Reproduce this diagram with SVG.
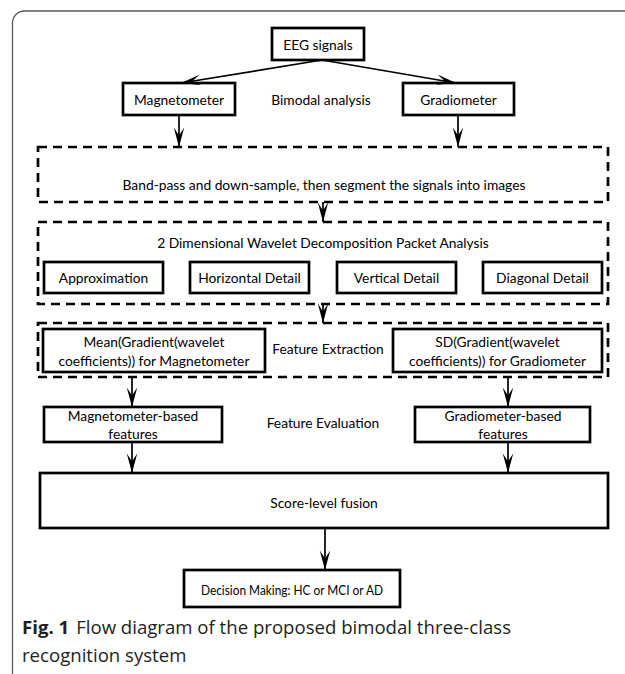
<svg xmlns="http://www.w3.org/2000/svg" width="625" height="674" viewBox="0 0 625 674">
<style>
.bg{fill:#fff}
.frame{fill:none;stroke:#5a5a5a;stroke-width:1.3}
.box{fill:#fff;stroke:#000;stroke-width:2.7}
.dash{fill:none;stroke:#000;stroke-width:2.7;stroke-dasharray:9 6}
.t{font-family:Lato,"Open Sans","Liberation Sans",sans-serif;font-size:13.8px;fill:#000;text-anchor:middle;dominant-baseline:central}
.conn line{stroke:#000;stroke-width:1.7;marker-end:url(#ah)}
.cap{font-family:"Open Sans","Noto Sans","Liberation Sans",sans-serif;font-size:18.6px;fill:#231f20}
</style>
<defs>
<marker id="ah" markerUnits="userSpaceOnUse" markerWidth="20" markerHeight="12" refX="19.5" refY="6" orient="auto" viewBox="0 0 20 12">
<path d="M0,0.8 L19.5,6 L0,11.2 L8,6 Z" fill="#000"/>
</marker>
</defs>
<rect class="bg" x="0" y="0" width="625" height="674"/>
<path class="frame" d="M12.5,674 V23 A12,12 0 0 1 24.5,11 H625"/>

<g id="eeg"><rect class="box" x="272" y="28" width="92" height="32"/><text class="t" x="318" y="44">EEG signals</text></g>
<g id="magnetometer"><rect class="box" x="123" y="83" width="112" height="32"/><text class="t" x="179" y="99">Magnetometer</text></g>
<g id="bimodal"><text class="t" x="321" y="99">Bimodal analysis</text></g>
<g id="gradiometer"><rect class="box" x="403" y="83" width="111" height="32"/><text class="t" x="458.5" y="99">Gradiometer</text></g>

<g id="preprocess"><rect class="dash" x="38" y="147" width="570" height="55"/><text class="t" x="324" y="184">Band-pass and down-sample, then segment the signals into images</text></g>

<g id="wavelet"><rect class="dash" x="38" y="222" width="570" height="82"/><text class="t" x="323" y="242">2 Dimensional Wavelet Decomposition Packet Analysis</text></g>
<g id="approximation"><rect class="box" x="44" y="262" width="119" height="31"/><text class="t" x="103.5" y="277.5">Approximation</text></g>
<g id="horizontal"><rect class="box" x="190" y="262" width="119" height="31"/><text class="t" x="249.5" y="277.5">Horizontal Detail</text></g>
<g id="vertical"><rect class="box" x="337" y="262" width="119" height="31"/><text class="t" x="396.5" y="277.5">Vertical Detail</text></g>
<g id="diagonal"><rect class="box" x="483" y="262" width="119" height="31"/><text class="t" x="542.5" y="277.5">Diagonal Detail</text></g>

<g id="extraction"><rect class="dash" x="38" y="323" width="570" height="54"/><text class="t" x="328" y="348">Feature Extraction</text></g>
<g id="mean"><rect class="box" x="43" y="329" width="222" height="43"/><text class="t" x="154" y="341">Mean(Gradient(wavelet</text><text class="t" x="154" y="360">coefficients)) for Magnetometer</text></g>
<g id="sd"><rect class="box" x="393" y="329" width="209" height="43"/><text class="t" x="497.5" y="341">SD(Gradient(wavelet</text><text class="t" x="497.5" y="360">coefficients)) for Gradiometer</text></g>

<g id="magfeat"><rect class="box" x="44" y="407" width="178" height="35"/><text class="t" x="133" y="415">Magnetometer-based</text><text class="t" x="133" y="433">features</text></g>
<g id="evaluation"><text class="t" x="323" y="422">Feature Evaluation</text></g>
<g id="gradfeat"><rect class="box" x="415" y="407" width="175" height="35"/><text class="t" x="503" y="415">Gradiometer-based</text><text class="t" x="503" y="433">features</text></g>

<g id="fusion"><rect class="box" x="40" y="473" width="568" height="55"/><text class="t" x="324" y="502">Score-level fusion</text></g>
<g id="decision"><rect class="box" x="184" y="570" width="216" height="37"/><text class="t" x="292" y="589" font-size="13px" textLength="182" lengthAdjust="spacingAndGlyphs">Decision Making: HC or MCI or AD</text></g>

<g class="conn" id="connectors">
<line x1="322" y1="60" x2="181" y2="83"/>
<line x1="322" y1="60" x2="456" y2="83"/>
<line x1="179" y1="115" x2="179" y2="147"/>
<line x1="458" y1="115" x2="458" y2="147"/>
<line x1="323" y1="202" x2="323" y2="222"/>
<line x1="323" y1="304" x2="323" y2="323"/>
<line x1="132" y1="377" x2="132" y2="407"/>
<line x1="508" y1="377" x2="508" y2="407"/>
<line x1="132" y1="442" x2="132" y2="473"/>
<line x1="508" y1="442" x2="508" y2="473"/>
<line x1="325" y1="528" x2="325" y2="570"/>
</g>

<g id="caption">
<text class="cap" x="22" y="634"><tspan font-weight="bold">Fig. 1</tspan><tspan dx="7">Flow diagram of the proposed bimodal three-class</tspan></text>
<text class="cap" x="22" y="662">recognition system</text>
</g>
</svg>
